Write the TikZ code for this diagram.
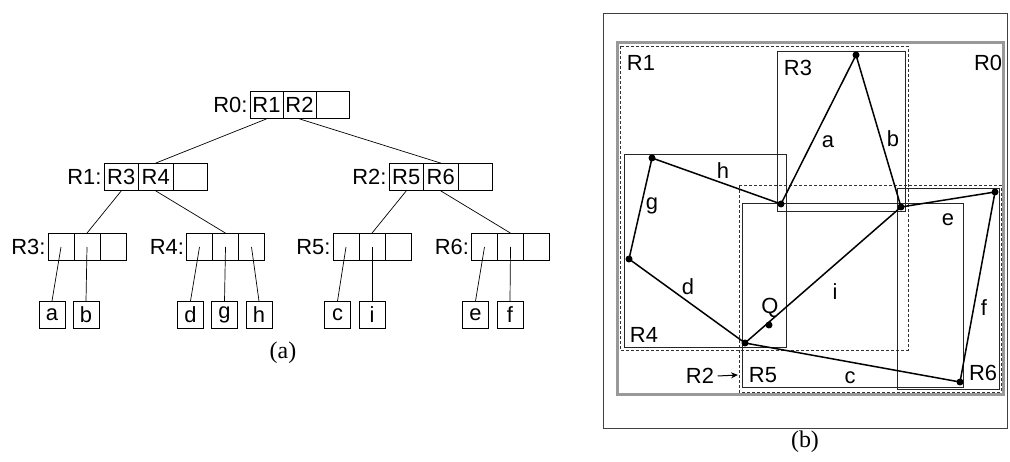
\documentclass[tikz,border=0pt]{standalone}
\usepackage{fontspec}
\setmainfont{Liberation Sans}
\newfontfamily\capfont{Liberation Serif}
\usetikzlibrary{arrows.meta}
\begin{document}
\begin{tikzpicture}[x=1bp,y=-1bp,
  every node/.style={font=\fontsize{22}{26}\selectfont},
  cellA/.style={draw, line width=0.8bp, minimum width=33bp, minimum height=27bp, inner sep=0pt},
  cellB/.style={draw, line width=0.8bp, minimum width=34.5bp, minimum height=27bp, inner sep=0pt},
  cellC/.style={draw, line width=0.8bp, minimum width=26bp, minimum height=27bp, inner sep=0pt},
  leaf/.style={draw, line width=0.8bp, minimum width=26bp, minimum height=27bp, inner sep=0pt},
  lab/.style={anchor=east, inner sep=2bp},
  tree/.style={line width=0.7bp},
  rbox/.style={draw=black!85, line width=0.8bp},
  dbox/.style={draw=black!80, line width=0.8bp, dash pattern=on 3bp off 2bp},
  dot/.style={circle, fill=black, inner sep=0pt, minimum size=7bp},
  seg/.style={line width=1.5bp},
  captxt/.style={font=\capfont\fontsize{24}{28}\selectfont}
]
\useasboundingbox (0,0) rectangle (1010,462);

% ---------- (a) tree ----------
\node[cellA] (r0a) at (266.5,105) {R1};
\node[cellA] (r0b) at (299.5,105) {R2};
\node[cellA] (r0c) at (332.5,105) {};
\node[lab] (r0l) at (r0a.west) {R0:};

\node[cellB] (r1a) at (121.25,177) {R3};
\node[cellB] (r1b) at (155.75,177) {R4};
\node[cellB] (r1c) at (190.25,177) {};
\node[lab] (r1l) at (r1a.west) {R1:};

\node[cellB] (r2a) at (406.25,177) {R5};
\node[cellB] (r2b) at (440.75,177) {R6};
\node[cellB] (r2c) at (475.25,177) {};
\node[lab] (r2l) at (r2a.west) {R2:};

\node[cellC] (r3a) at (61,247) {};
\node[cellC] (r3b) at (87,247) {};
\node[cellC] (r3c) at (113,247) {};
\node[lab] (r3l) at (r3a.west) {R3:};

\node[cellC] (r4a) at (199.5,247) {};
\node[cellC] (r4b) at (225.5,247) {};
\node[cellC] (r4c) at (251.5,247) {};
\node[lab] (r4l) at (r4a.west) {R4:};

\node[cellC] (r5a) at (346,247) {};
\node[cellC] (r5b) at (372,247) {};
\node[cellC] (r5c) at (398,247) {};
\node[lab] (r5l) at (r5a.west) {R5:};

\node[cellC] (r6a) at (484.5,247) {};
\node[cellC] (r6b) at (510.5,247) {};
\node[cellC] (r6c) at (536.5,247) {};
\node[lab] (r6l) at (r6a.west) {R6:};

\node[leaf] (la) at (52,315) {a};
\node[leaf] (lb) at (86,315) {b};
\node[leaf] (ld) at (190.5,315) {d};
\node[leaf] (lg) at (224.5,315) {g};
\node[leaf] (lh) at (259,315) {h};
\node[leaf] (lc) at (337.5,315) {c};
\node[leaf] (li) at (372,315) {i};
\node[leaf] (le) at (475.5,315) {e};
\node[leaf] (lf) at (510,315) {f};

\draw[tree] (r0a.south) -- (r1b.north);
\draw[tree] (r0b.south) -- (r2b.north);
\draw[tree] (r1a.south) -- (r3b.north);
\draw[tree] (r1b.south) -- (r4b.north);
\draw[tree] (r2a.south) -- (r5b.north);
\draw[tree] (r2b.south) -- (r6b.north);
\draw[tree] (r3a.center) -- (la.north);
\draw[tree] (r3b.center) -- (lb.north);
\draw[tree] (r4a.center) -- (ld.north);
\draw[tree] (r4b.center) -- (lg.north);
\draw[tree] (r4c.center) -- (lh.north);
\draw[tree] (r5a.center) -- (lc.north);
\draw[tree] (r5b.center) -- (li.north);
\draw[tree] (r6a.center) -- (le.north);
\draw[tree] (r6b.center) -- (lf.north);

\node[captxt] (capa) at (283,353) {(a)};

% ---------- (b) space ----------
\draw[draw=black!75, line width=0.8bp] (603,13) rectangle (1007,428);
\draw[draw=black!40, line width=3bp] (617,43) rectangle (1003,395);
\draw[dbox] (620,46) rectangle (908,350);
\draw[dbox] (739,185) rectangle (1001,392);
\draw[rbox] (777,51) rectangle (905,211);
\draw[rbox] (624,154) rectangle (786,347);
\draw[rbox] (742,203) rectangle (963,387);
\draw[rbox] (897,188) rectangle (999,389);

\node[dot] (pA) at (856,55) {};
\node[dot] (pH) at (652,158) {};
\node[dot] (pJ) at (781,204) {};
\node[dot] (pK) at (901,207) {};
\node[dot] (pE) at (995,192) {};
\node[dot] (pG) at (629,259) {};
\node[dot] (pD) at (745,343) {};
\node[dot] (pQ) at (769,325) {};
\node[dot] (pF) at (960,382) {};

\draw[seg] (pJ.center) -- (pA.center);
\draw[seg] (pA.center) -- (pK.center);
\draw[seg] (pH.center) -- (pJ.center);
\draw[seg] (pH.center) -- (pG.center);
\draw[seg] (pG.center) -- (pD.center);
\draw[seg] (pD.center) -- (pF.center);
\draw[seg] (pF.center) -- (pE.center);
\draw[seg] (pK.center) -- (pE.center);
\draw[seg] (pK.center) -- (pD.center);

\node (tR1) at (641,63) {R1};
\node (tR3) at (798,68) {R3};
\node (tR0) at (988,63) {R0};
\node (ta) at (828,142) {a};
\node (tb) at (893,139) {b};
\node (th) at (723,171) {h};
\node (tg) at (652,206) {g};
\node (te) at (948,220) {e};
\node (td) at (688,287) {d};
\node (ti) at (835,292) {i};
\node (tQ) at (770,308) {Q};
\node (tf) at (984,308) {f};
\node (tR4) at (644,335) {R4};
\node (tR5) at (763,375) {R5};
\node (tc) at (850,378) {c};
\node (tR6) at (983,373) {R6};
\node (tR2) at (700,376) {R2};
\coordinate (r2tip) at (738,375);
\draw[line width=1bp, -{Stealth[length=7bp,width=6bp]}] (tR2.east) -- (r2tip);

\node[captxt] (capb) at (805,442) {(b)};
\end{tikzpicture}
\end{document}
